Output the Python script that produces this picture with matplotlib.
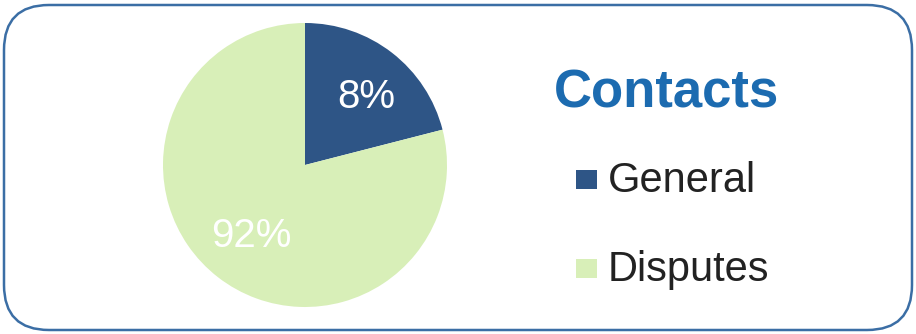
import matplotlib
matplotlib.use("Agg")
import matplotlib.pyplot as plt
from matplotlib.patches import FancyBboxPatch, Rectangle

plt.rcParams['font.family'] = ['Liberation Sans', 'DejaVu Sans']

categories = ["General", "Disputes"]
slice_sizes = [21, 79]          # angular share as drawn in the picture
pct_labels = ["8%", "92%"]      # labels printed on the slices
colors = ["#2e5586", "#d8efb8"]
title = "Contacts"

W, H = 916, 334
fig = plt.figure(figsize=(W / 100, H / 100), dpi=100)
ax = fig.add_axes([0, 0, 1, 1])

# rounded frame
frame = FancyBboxPatch((4, 4), 908, 325,
                       boxstyle="round,pad=0,rounding_size=45",
                       facecolor="white", edgecolor="#3b6ea5", linewidth=1.8)
ax.add_patch(frame)

wedges, _ = ax.pie(slice_sizes, colors=colors, startangle=90, counterclock=False,
                   center=(305, H - 165), radius=142,
                   wedgeprops=dict(linewidth=0))
ax.set_xlim(0, W)
ax.set_ylim(0, H)
ax.set_aspect('equal')
ax.axis('off')

# slice labels (baseline positions)
label_pos = [(366.5, H - 108.5), (251, H - 247)]
for (x, y), t in zip(label_pos, pct_labels):
    ax.text(x, y, t, color="white", fontsize=29, ha="center", va="baseline")

# title
ax.text(666, H - 107, title, color="#1c6bb0", fontsize=38, fontweight="bold",
        ha="center", va="baseline")

# legend
legend_base = [H - 192, H - 281]
for (cat, col, y) in zip(categories, colors, legend_base):
    ax.add_patch(Rectangle((576, y + 3), 21, 19, facecolor=col, edgecolor="none"))
    ax.text(608, y, cat, color="#222222", fontsize=30, ha="left", va="baseline")

fig.savefig("out.png", dpi=100)
